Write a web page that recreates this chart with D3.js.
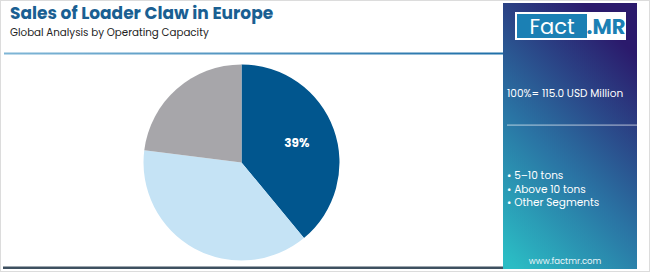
<!DOCTYPE html>
<html><head><meta charset="utf-8">
<script src="https://cdn.jsdelivr.net/npm/d3@7"></script>
<style>body{margin:0;background:#fff;}svg{display:block;font-family:Poppins,"Open Sans","Noto Sans",sans-serif;}</style>
</head><body>
<svg id="c" width="650" height="272"></svg>
<script>
const categories = ["5-10 tons", "Above 10 tons", "Other Segments"];
const values = [39, 38, 23];
const legendLabels = ["5–10 tons", "Above 10 tons", "Other Segments"];
const colors = ["#01568e", "#c5e3f5", "#a7a6aa"];
const title = "Sales of Loader Claw in Europe";
const subtitle = "Global Analysis by Operating Capacity";
const totalLabel = "100%= 115.0 USD Million";

const svg = d3.select("#c");
const defs = svg.append("defs");

svg.append("rect").attr("x",0.5).attr("y",0.5).attr("width",649).attr("height",271)
  .attr("fill","#fff").attr("stroke","#dcdcdc");

const hg = defs.append("linearGradient").attr("id","hg").attr("x1","0").attr("x2","1");
hg.append("stop").attr("offset","0").attr("stop-color","#7fb6d6");
hg.append("stop").attr("offset","1").attr("stop-color","#1f6fa8");
svg.append("rect").attr("x",4).attr("y",52.5).attr("width",499).attr("height",2).attr("fill","url(#hg)");

svg.append("rect").attr("x",3).attr("y",266.5).attr("width",500).attr("height",2.5).attr("fill","#3e5060");

svg.append("text").attr("x",10).attr("y",19).attr("font-size",17).attr("font-weight",700)
  .attr("fill","#1a5f92").text(title);
svg.append("text").attr("x",10).attr("y",36).attr("font-size",10.3).attr("fill","#222").text(subtitle);

const pg = defs.append("linearGradient").attr("id","pg").attr("x1","0.1").attr("y1","1").attr("x2","0.6").attr("y2","0");
pg.append("stop").attr("offset","0").attr("stop-color","#2bbcc4");
pg.append("stop").attr("offset","0.45").attr("stop-color","#2a74a4");
pg.append("stop").attr("offset","1").attr("stop-color","#2b1a6c");
svg.append("rect").attr("x",503).attr("y",3).attr("width",134).attr("height",266).attr("fill","url(#pg)");

svg.append("rect").attr("x",515).attr("y",12).attr("width",111).attr("height",28).attr("fill","#fff");
svg.append("rect").attr("x",517).attr("y",14).attr("width",70).attr("height",24).attr("fill","#1b80b4");
svg.append("text").attr("x",552).attr("y",34).attr("text-anchor","middle").attr("font-size",21)
  .attr("fill","#fff").text("Fact");
svg.append("text").attr("x",606).attr("y",34).attr("text-anchor","middle").attr("font-size",21)
  .attr("font-weight",700).attr("fill","#1b80b4").text(".MR");

svg.append("text").attr("x",507).attr("y",97).attr("font-size",10.5).attr("fill","#fff").text(totalLabel);
svg.append("rect").attr("x",507).attr("y",124.5).attr("width",130).attr("height",1.2).attr("fill","rgba(255,255,255,0.55)");

svg.append("g").selectAll("text").data(legendLabels).join("text")
  .attr("x",507).attr("y",(d,i)=>179+i*13.5).attr("font-size",10.5).attr("fill","#fff")
  .text(d=>"• "+d);

svg.append("text").attr("x",565).attr("y",264).attr("text-anchor","middle").attr("font-size",8.5)
  .attr("fill","#e8f4f8").text("www.factmr.com");

const cx = 241.5, cy = 162.5, r = 98;
const pie = d3.pie().sort(null).value(d=>d)(values);
const arc = d3.arc().innerRadius(0).outerRadius(r);
const g = svg.append("g").attr("transform",`translate(${cx},${cy})`);
g.selectAll("path").data(pie).join("path").attr("d",arc).attr("fill",(d,i)=>colors[i]);
const lab = d3.arc().innerRadius(r*0.6).outerRadius(r*0.6);
g.selectAll("text").data(pie.filter((d,i)=>i===0)).join("text")
  .attr("transform",d=>`translate(${lab.centroid(d)})`)
  .attr("text-anchor","middle").attr("dy","0.35em").attr("font-size",12).attr("font-weight",700)
  .attr("fill","#fff").text(d=>d.data+"%");
</script>
</body></html>
